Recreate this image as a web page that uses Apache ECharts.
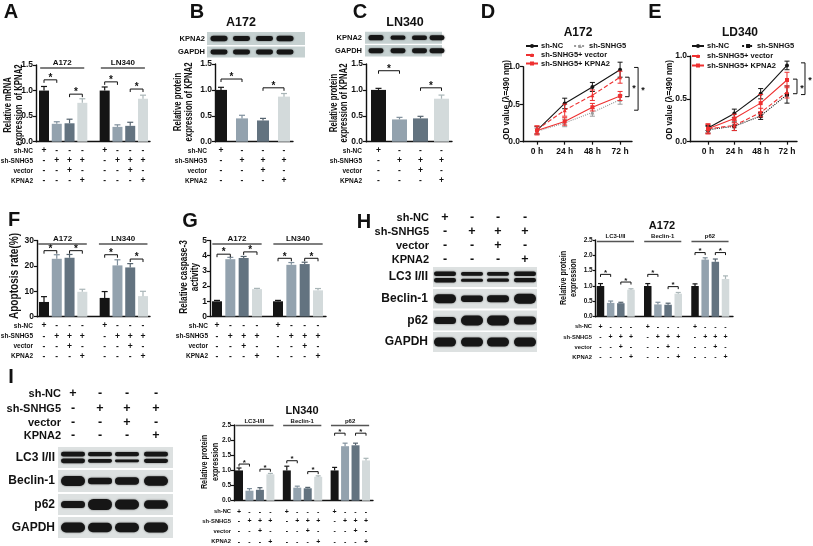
<!DOCTYPE html>
<html>
<head>
<meta charset="utf-8">
<script src="https://cdn.jsdelivr.net/npm/echarts@6/dist/echarts.min.js"></script>
<style>
html,body{margin:0;padding:0;background:#ffffff;}
#chart{width:813px;height:546px;}
</style>
</head>
<body>
<div id="chart"></div>
<script>
const FONT = '"Liberation Sans", Arial, Helvetica, sans-serif';

// ================= DATA =================
const rowNames = ['sh-NC', 'sh-SNHG5', 'vector', 'KPNA2'];
const rowSigns = [
  ['+', '-', '-', '-'],
  ['-', '+', '+', '+'],
  ['-', '-', '+', '-'],
  ['-', '-', '-', '+']
];
const cellLineGroups = ['A172', 'LN340'];
const proteinGroups = ['LC3-I/II', 'Beclin-1', 'p62'];

// A: relative mRNA expression of KPNA2
const mrnaValues = [1.00, 0.35, 0.36, 0.76, 1.00, 0.29, 0.31, 0.84];
const mrnaErrors = [0.08, 0.04, 0.08, 0.08, 0.07, 0.04, 0.07, 0.07];
const mrnaBrackets = [[0, 1, 1.21], [2, 3, 0.93], [4, 5, 1.17], [6, 7, 1.03]];

// B: A172 protein
const kpnaA172Values = [1.00, 0.45, 0.41, 0.87];
const kpnaA172Errors = [0.05, 0.06, 0.04, 0.06];
const kpnaA172Brackets = [[0, 1, 1.21], [2, 3, 1.04]];

// C: LN340 protein
const kpnaLN340Values = [1.00, 0.43, 0.45, 0.83];
const kpnaLN340Errors = [0.03, 0.04, 0.04, 0.07];
const kpnaLN340Brackets = [[0, 1, 1.37], [2, 3, 1.04]];

// D / E: OD value time courses
const timeLabels = ['0 h', '24 h', '48 h', '72 h'];
const odSeriesNames = ['sh-NC', 'sh-SNHG5', 'sh-SNHG5+ vector', 'sh-SNHG5+ KPNA2'];
const odA172Values = [
  [0.15, 0.51, 0.73, 0.96],
  [0.14, 0.25, 0.39, 0.56],
  [0.16, 0.42, 0.62, 0.86],
  [0.15, 0.27, 0.46, 0.61]
];
const odA172Errors = [
  [0.05, 0.07, 0.06, 0.10],
  [0.04, 0.05, 0.05, 0.06],
  [0.05, 0.08, 0.07, 0.08],
  [0.06, 0.05, 0.05, 0.06]
];
const odA172Brackets = [[0.86, 0.60], [0.99, 0.42]];
const odLD340Values = [
  [0.16, 0.33, 0.56, 0.89],
  [0.14, 0.18, 0.30, 0.55],
  [0.15, 0.19, 0.34, 0.58],
  [0.15, 0.27, 0.45, 0.72]
];
const odLD340Errors = [
  [0.03, 0.05, 0.06, 0.05],
  [0.04, 0.05, 0.04, 0.10],
  [0.06, 0.06, 0.05, 0.07],
  [0.05, 0.05, 0.10, 0.09]
];
const odLD340Brackets = [[0.73, 0.56], [0.92, 0.55]];

// F: apoptosis rate (%)
const apoValues = [5.8, 22.8, 23.2, 9.8, 7.4, 20.2, 19.4, 8.1];
const apoErrors = [2.1, 1.6, 1.3, 1.0, 2.5, 2.2, 1.5, 1.9];
const apoBrackets = [[0, 1, 26.0], [2, 3, 26.0], [4, 5, 24.4], [6, 7, 22.7]];

// G: relative caspase-3 activity
const caspValues = [1.00, 3.77, 3.85, 1.80, 1.00, 3.40, 3.45, 1.72];
const caspErrors = [0.06, 0.12, 0.10, 0.05, 0.06, 0.15, 0.12, 0.12];
const caspBrackets = [[0, 1, 4.1], [2, 3, 4.25], [4, 5, 3.83], [6, 7, 3.83]];

// H: A172 autophagy proteins
const autoA172Values = [1.00, 0.45, 0.44, 0.88, 1.00, 0.40, 0.39, 0.75, 1.00, 1.86, 1.79, 1.23];
const autoA172Errors = [0.08, 0.06, 0.03, 0.03, 0.08, 0.07, 0.05, 0.04, 0.07, 0.06, 0.09, 0.10];
const autoA172Brackets = [[0, 1, 1.38], [2, 3, 1.13], [4, 5, 1.38], [6, 7, 0.98], [8, 9, 2.09], [10, 11, 2.09]];

// I: LN340 autophagy proteins
const autoLN340Values = [1.00, 0.33, 0.36, 0.87, 1.00, 0.43, 0.41, 0.79, 1.00, 1.80, 1.83, 1.33];
const autoLN340Errors = [0.08, 0.07, 0.07, 0.03, 0.14, 0.05, 0.03, 0.03, 0.10, 0.10, 0.07, 0.07];
const autoLN340Brackets = [[0, 1, 1.21], [2, 3, 1.04], [4, 5, 1.32], [6, 7, 0.96], [8, 9, 2.23], [10, 11, 2.23]];

// Western blot band strengths (relative band thickness per lane)
const blotBKPNA2 = [1.0, 0.85, 0.85, 0.95];
const blotBGAPDH = [1.0, 1.0, 1.0, 1.0];
const blotCKPNA2 = [1.0, 0.8, 0.85, 0.95];
const blotCGAPDH = [1.0, 1.0, 1.0, 1.0];
const blotHLC3 = [[1.0, 0.85, 0.85, 1.0], [1.0, 0.7, 0.75, 0.95]];
const blotHBeclin = [1.0, 0.7, 0.8, 1.1];
const blotHp62 = [0.8, 1.1, 1.1, 0.9];
const blotHGAPDH = [1.0, 1.0, 1.0, 1.0];
const blotILC3 = [[1.0, 0.9, 0.9, 1.0], [1.0, 0.75, 0.6, 0.9]];
const blotIBeclin = [1.0, 0.65, 0.75, 0.95];
const blotIp62 = [0.7, 1.1, 1.0, 0.85];
const blotIGAPDH = [1.0, 0.95, 0.95, 1.0];

// ================= STYLE =================
const barColors = ['#151515', '#93a2ae', '#637380', '#d3dadb'];
const errColors = ['#151515', '#7f8f9c', '#55636e', '#a9b5b7'];

const option = {animation: false, backgroundColor: '#ffffff', grid: [], xAxis: [], yAxis: [], series: [], legend: [], graphic: {elements: []}};
const GE = option.graphic.elements;

function font(sz) { return 'bold ' + sz + 'px ' + FONT; }
function addText(text, x, y, sz, align, extra) {
  const a = align || 'center';
  GE.push(Object.assign({type: 'text', x: x, y: y, silent: true, z: 10,
    style: {text: text, font: font(sz), fill: '#111', align: a, verticalAlign: 'middle', textAlign: a, textVerticalAlign: 'middle'}}, extra || {}));
}
function addVText(text, x, y, sz, sx) { addText(text, x, y, sz, 'center', {rotation: Math.PI / 2, scaleX: sx || 1}); }

function addBarPanel(L, values, errors, brackets, groups) {
  const gi = option.grid.length;
  const n = values.length;
  const pos = values.map((_, k) => Math.floor(k / 4) * (4 + L.gap) + (k % 4));
  const s = (L.lastPx - L.firstPx) / pos[n - 1];
  const xmin = -(L.firstPx - L.left) / s;
  const xmax = xmin + (L.right - L.left) / s;
  option.grid.push({left: L.left, top: L.top, width: L.right - L.left, height: L.bottom - L.top});
  option.xAxis.push({type: 'value', gridIndex: gi, min: xmin, max: xmax,
    axisLine: {show: true, onZero: false, lineStyle: {color: '#111', width: 1.4}},
    axisTick: {show: false}, axisLabel: {show: false}, splitLine: {show: false}});
  option.yAxis.push({type: 'value', gridIndex: gi, min: 0, max: L.yMax, interval: L.yInt,
    axisLine: {show: true, onZero: false, lineStyle: {color: '#111', width: 1.4}},
    axisTick: {show: true, length: 3, lineStyle: {color: '#111', width: 1.2}},
    axisLabel: {color: '#111', fontFamily: FONT, fontWeight: 'bold', fontSize: L.tickFont, margin: 3,
      formatter: v => v.toFixed(L.dec)},
    splitLine: {show: false}});
  const base = {xAxisIndex: gi, yAxisIndex: gi, silent: true};
  option.series.push(Object.assign({type: 'bar', barWidth: L.barWidth,
    data: values.map((v, k) => ({value: [pos[k], v], itemStyle: {color: barColors[k % 4]}}))}, base));
  // error bars (upper)
  option.series.push(Object.assign({type: 'custom', clip: false, z: 3,
    data: values.map((v, k) => [pos[k], v, errors[k], k % 4]),
    renderItem: (p, api) => {
      const a = api.coord([api.value(0), api.value(1)]);
      const b = api.coord([api.value(0), api.value(1) + api.value(2)]);
      const c = errColors[api.value(3)];
      return {type: 'group', children: [
        {type: 'line', shape: {x1: a[0], y1: a[1], x2: b[0], y2: b[1]}, style: {stroke: c, lineWidth: 1.2}},
        {type: 'line', shape: {x1: b[0] - L.cap, y1: b[1], x2: b[0] + L.cap, y2: b[1]}, style: {stroke: c, lineWidth: 1.2}}
      ]};
    }}, base));
  // significance brackets
  option.series.push(Object.assign({type: 'custom', clip: false, z: 4,
    data: brackets.map(b => [pos[b[0]], pos[b[1]], b[2]]),
    renderItem: (p, api) => {
      const a = api.coord([api.value(0), api.value(2)]);
      const b = api.coord([api.value(1), api.value(2)]);
      const t = L.tick;
      return {type: 'group', children: [
        {type: 'polyline', shape: {points: [[a[0], a[1] + t], [a[0], a[1]], [b[0], b[1]], [b[0], b[1] + t]]}, style: {stroke: '#111', lineWidth: 1, fill: null}},
        {type: 'text', x: (a[0] + b[0]) / 2, y: a[1] - 1.5, style: {text: '*', font: font(L.starFont), fill: '#111', align: 'center', verticalAlign: 'middle'}}
      ]};
    }}, base));
  // condition table signs
  option.series.push(Object.assign({type: 'custom', clip: false, z: 4,
    data: values.map((v, k) => [pos[k], k % 4]),
    renderItem: (p, api) => {
      const x = api.coord([api.value(0), 0])[0];
      const c = api.value(1);
      return {type: 'group', children: L.rowY.map((y, r) => ({type: 'text', x: x, y: y,
        style: {text: rowSigns[r][c], font: font(L.signFont), fill: '#111', align: 'center', verticalAlign: 'middle'}}))};
    }}, base));
  rowNames.forEach((nm, r) => addText(nm, L.rowLabelX, L.rowY[r], L.labelFont, 'right'));
  // group headers
  if (groups) {
    option.series.push(Object.assign({type: 'custom', clip: false, z: 4,
      data: groups.map((g, gg) => [pos[gg * 4] + L.hdrExt[0], pos[gg * 4 + 3] + L.hdrExt[1], gg]),
      renderItem: (p, api) => {
        const x1 = api.coord([api.value(0), 0])[0];
        const x2 = api.coord([api.value(1), 0])[0];
        return {type: 'group', children: [
          {type: 'line', shape: {x1: x1, y1: L.hdrLineY, x2: x2, y2: L.hdrLineY}, style: {stroke: '#555', lineWidth: 1.4}},
          {type: 'text', x: (x1 + x2) / 2, y: L.hdrTextY, style: {text: groups[api.value(2)], font: font(L.hdrFont), fill: '#111', align: 'center', verticalAlign: 'middle'}}
        ]};
      }}, base));
  }
}

function addLinePanel(L, key, values, errors, styles, brackets) {
  const gi = option.grid.length;
  option.grid.push({left: L.left, top: L.top, width: L.right - L.left, height: L.bottom - L.top});
  option.xAxis.push({type: 'value', gridIndex: gi, min: L.xmin, max: L.xmax,
    axisLine: {show: true, onZero: false, lineStyle: {color: '#111', width: 1.4}},
    axisTick: {show: true, customValues: [0, 1, 2, 3], length: 3, lineStyle: {color: '#111', width: 1.2}},
    axisLabel: {show: true, customValues: [0, 1, 2, 3], formatter: v => timeLabels[Math.round(v)] || '',
      color: '#111', fontFamily: FONT, fontWeight: 'bold', fontSize: 8.5, margin: 5},
    splitLine: {show: false}});
  option.yAxis.push({type: 'value', gridIndex: gi, min: 0, max: 1, interval: 0.5,
    axisLine: {show: true, onZero: false, lineStyle: {color: '#111', width: 1.4}},
    axisTick: {show: true, length: 3, lineStyle: {color: '#111', width: 1.2}},
    axisLabel: {color: '#111', fontFamily: FONT, fontWeight: 'bold', fontSize: 8.5, margin: 3, formatter: v => v.toFixed(1)},
    splitLine: {show: false}});
  const base = {xAxisIndex: gi, yAxisIndex: gi, silent: true};
  odSeriesNames.forEach((nm, k) => {
    const st = styles[k];
    option.series.push(Object.assign({type: 'line', name: key + '|' + nm, z: 3 + k,
      data: values[k].map((v, i) => [i, v]), symbol: st.symbol, symbolSize: st.size,
      lineStyle: {color: st.color, width: 1.1, type: st.type}, itemStyle: {color: st.color}}, base));
    option.series.push(Object.assign({type: 'custom', clip: false, z: 3 + k,
      data: values[k].map((v, i) => [i, v, errors[k][i]]),
      renderItem: (p, api) => {
        const x = api.value(0), v = api.value(1), e = api.value(2);
        const a = api.coord([x, v + e]), b = api.coord([x, v - e]);
        return {type: 'group', children: [
          {type: 'line', shape: {x1: a[0], y1: a[1], x2: b[0], y2: b[1]}, style: {stroke: st.color, lineWidth: 1}},
          {type: 'line', shape: {x1: a[0] - 2.5, y1: a[1], x2: a[0] + 2.5, y2: a[1]}, style: {stroke: st.color, lineWidth: 1}},
          {type: 'line', shape: {x1: b[0] - 2.5, y1: b[1], x2: b[0] + 2.5, y2: b[1]}, style: {stroke: st.color, lineWidth: 1}}
        ]};
      }}, base));
  });
  option.series.push(Object.assign({type: 'custom', clip: false, z: 8,
    data: brackets.map((b, bi) => [3, b[0], b[1], bi]),
    renderItem: (p, api) => {
      const off = L.brOff[api.value(3)];
      const a = api.coord([api.value(0), api.value(1)]);
      const b = api.coord([api.value(0), api.value(2)]);
      const x = a[0] + off;
      return {type: 'group', children: [
        {type: 'polyline', shape: {points: [[x - 4, a[1]], [x, a[1]], [x, b[1]], [x - 4, b[1]]]}, style: {stroke: '#111', lineWidth: 1, fill: null}},
        {type: 'text', x: x + 5, y: (a[1] + b[1]) / 2 + 2, style: {text: '*', font: font(9), fill: '#111', align: 'center', verticalAlign: 'middle'}}
      ]};
    }}, base));
  // legends
  L.legendRows.forEach(row => {
    option.legend.push({show: true, data: row.items.map(i => key + '|' + odSeriesNames[i]), left: row.left, top: row.top,
      orient: 'horizontal', itemWidth: 12, itemHeight: 5, itemGap: row.gap || 10, padding: 0, selectedMode: false,
      formatter: nm => nm.split('|')[1],
      textStyle: {fontFamily: FONT, fontWeight: 'bold', fontSize: 7.5, color: '#111', padding: [0, 0, 0, -2]}});
  });
}

function addBlotRow(x0, y0, w, h, lanes, strengths, opt) {
  GE.push({type: 'rect', silent: true, z: 1, shape: {x: x0, y: y0, width: w, height: h}, style: {fill: opt.bg}});
  lanes.forEach((cx, i) => {
    const draw = (cy, hh) => GE.push({type: 'rect', silent: true, z: 2,
      shape: {x: cx - opt.halfW, y: cy - hh, width: opt.halfW * 2, height: hh * 2, r: hh},
      style: {fill: '#161616', shadowBlur: 2, shadowColor: 'rgba(0,0,0,0.55)'}});
    if (opt.double) {
      draw(y0 + h * 0.34, opt.halfH * strengths[0][i]);
      draw(y0 + h * 0.66, opt.halfH * strengths[1][i]);
    } else {
      draw(y0 + h * 0.5, opt.halfH * strengths[i]);
    }
  });
}

// ================= LAYOUT =================
const smallTable = {rowY: [151, 161, 171, 181], signFont: 8.5, labelFont: 6.5};
const LA = Object.assign({left: 36, right: 150, top: 65, bottom: 141.7, yMax: 1.5, yInt: 0.5, dec: 1, tickFont: 8.5,
  firstPx: 44, lastPx: 143, gap: 0.75, barWidth: 10, cap: 3, tick: 3, starFont: 10, rowLabelX: 33,
  hdrTextY: 62.5, hdrLineY: 68, hdrExt: [-0.3, 0.15], hdrFont: 8}, smallTable);
const LB = Object.assign({left: 215, right: 293, top: 64, bottom: 141.7, yMax: 1.5, yInt: 0.5, dec: 1, tickFont: 8.5,
  firstPx: 221, lastPx: 284, gap: 0, barWidth: 12, cap: 3, tick: 3, starFont: 10, rowLabelX: 207}, smallTable);
const LC = Object.assign({left: 366, right: 452, top: 64, bottom: 141.7, yMax: 1.5, yInt: 0.5, dec: 1, tickFont: 8.5,
  firstPx: 378.5, lastPx: 441.5, gap: 0, barWidth: 15, cap: 3, tick: 3, starFont: 10, rowLabelX: 362}, smallTable);
const fgTable = {rowY: [326, 336.3, 346.5, 356.7], signFont: 8.5, labelFont: 6.5};
const LF = Object.assign({left: 37, right: 150, top: 240.5, bottom: 316.7, yMax: 30, yInt: 10, dec: 0, tickFont: 8.5,
  firstPx: 44, lastPx: 143, gap: 0.75, barWidth: 10, cap: 3, tick: 3, starFont: 10, rowLabelX: 33,
  hdrTextY: 238.5, hdrLineY: 244, hdrExt: [-0.45, 0.35], hdrFont: 8}, fgTable);
const LG = Object.assign({left: 210, right: 326, top: 240.5, bottom: 316.5, yMax: 5, yInt: 1, dec: 0, tickFont: 8.5,
  firstPx: 217, lastPx: 318, gap: 0.58, barWidth: 10, cap: 3, tick: 3, starFont: 10, rowLabelX: 208,
  hdrTextY: 238.5, hdrLineY: 244, hdrExt: [-0.35, 0.35], hdrFont: 8}, fgTable);
const LH = {left: 595.7, right: 733, top: 240, bottom: 316.7, yMax: 2.5, yInt: 0.5, dec: 1, tickFont: 6.5,
  firstPx: 600.5, lastPx: 725.5, gap: 0.65, barWidth: 7.5, cap: 2.5, tick: 2.5, starFont: 8, rowLabelX: 592,
  rowY: [326.7, 337.3, 347.3, 357.3], signFont: 7, labelFont: 5.8,
  hdrTextY: 236.5, hdrLineY: 241.5, hdrExt: [-0.35, 0.3], hdrFont: 6};
const LI = {left: 234, right: 373, top: 425, bottom: 500.7, yMax: 2.5, yInt: 0.5, dec: 1, tickFont: 6.5,
  firstPx: 239, lastPx: 366, gap: 0.57, barWidth: 8, cap: 2.5, tick: 2.5, starFont: 8, rowLabelX: 231,
  rowY: [511.7, 521.3, 531.3, 541.7], signFont: 7, labelFont: 5.8,
  hdrTextY: 421, hdrLineY: 425.5, hdrExt: [-0.35, 0.3], hdrFont: 6};

const LD = {left: 523, right: 632, top: 66.7, bottom: 141.7, xmin: -0.505, xmax: 3.43, brOff: [9, 18],
  legendRows: [{items: [0, 1], left: 525, top: 42, gap: 10}, {items: [2], left: 525, top: 51}, {items: [3], left: 525, top: 59.5}]};
const LE = {left: 690, right: 797, top: 56, bottom: 141.7, xmin: -0.684, xmax: 3.38, brOff: [10, 18],
  legendRows: [{items: [0, 1], left: 691, top: 42, gap: 12}, {items: [2], left: 691, top: 52}, {items: [3], left: 691, top: 61.5}]};
const stylesD = [
  {color: '#151515', type: 'solid', symbol: 'circle', size: 4},
  {color: '#9a9a9a', type: 'dotted', symbol: 'triangle', size: 4},
  {color: '#ee3030', type: 'dashed', symbol: 'triangle', size: 4},
  {color: '#ee3030', type: 'solid', symbol: 'rect', size: 4}
];
const stylesE = [
  {color: '#151515', type: 'solid', symbol: 'circle', size: 4},
  {color: '#151515', type: 'dotted', symbol: 'rect', size: 4},
  {color: '#ee3030', type: 'dashed', symbol: 'triangle', size: 4},
  {color: '#ee3030', type: 'solid', symbol: 'rect', size: 4}
];

// ================= BUILD =================
addBarPanel(LA, mrnaValues, mrnaErrors, mrnaBrackets, cellLineGroups);
addBarPanel(LB, kpnaA172Values, kpnaA172Errors, kpnaA172Brackets, null);
addBarPanel(LC, kpnaLN340Values, kpnaLN340Errors, kpnaLN340Brackets, null);
addBarPanel(LF, apoValues, apoErrors, apoBrackets, cellLineGroups);
addBarPanel(LG, caspValues, caspErrors, caspBrackets, cellLineGroups);
addBarPanel(LH, autoA172Values, autoA172Errors, autoA172Brackets, proteinGroups);
addBarPanel(LI, autoLN340Values, autoLN340Errors, autoLN340Brackets, proteinGroups);
addLinePanel(LD, 'D', odA172Values, odA172Errors, stylesD, odA172Brackets);
addLinePanel(LE, 'E', odLD340Values, odLD340Errors, stylesE, odLD340Brackets);

// panel letters
[['A', 11, 12], ['B', 197, 12], ['C', 360, 12], ['D', 488, 12], ['E', 655, 12],
 ['F', 14, 220], ['G', 190, 221], ['H', 364, 222], ['I', 11, 377]].forEach(t => addText(t[0], t[1], t[2], 20));

// titles
addText('A172', 241, 22.5, 12.5);
addText('LN340', 405, 22.5, 12.5);
addText('A172', 578, 33, 12);
addText('LD340', 740, 33, 12);
addText('A172', 662, 226, 11);
addText('LN340', 302, 411, 11);

// y-axis names
addVText('Relative mRNA', 8, 105, 10.5, 0.74);
addVText('expression  of KPNA2', 19.5, 105, 10.5, 0.74);
addVText('Relative protein', 178.5, 102, 10.5, 0.74);
addVText('expression of KPNA2', 189, 102, 10.5, 0.74);
addVText('Relative protein', 334, 103, 10.5, 0.74);
addVText('expression of KPNA2', 344.5, 103, 10.5, 0.74);
addVText('OD value (\u03bb=490 nm)', 506, 100, 9.5, 0.85);
addVText('OD value (\u03bb=490 nm)', 669, 100, 9.5, 0.85);
addVText('Apoptosis rate(%)', 15, 276, 12, 0.84);
addVText('Relative caspase-3', 184.5, 277, 10, 0.82);
addVText('activity', 195.5, 277, 10, 0.82);
addVText('Relative protein', 563.5, 278, 8.5, 0.85);
addVText('expression', 574, 278, 8.5, 0.85);
addVText('Relative protein', 205, 462, 8.5, 0.85);
addVText('expression', 216, 462, 8.5, 0.85);

// blots B and C
const bgBC = '#c6d1d1';
addBlotRow(207, 32, 98, 13, [219, 241.5, 264.5, 285], blotBKPNA2, {bg: bgBC, halfW: 8.5, halfH: 2.8});
addBlotRow(207, 46.5, 98, 11, [219, 241.5, 264.5, 285], blotBGAPDH, {bg: bgBC, halfW: 8.5, halfH: 2.4});
addText('KPNA2', 205, 38.5, 7.5, 'right');
addText('GAPDH', 205, 52, 7.5, 'right');
addBlotRow(365, 31.7, 77, 12, [376, 398, 419.5, 437], blotCKPNA2, {bg: bgBC, halfW: 7.5, halfH: 2.6});
addBlotRow(365, 45, 77, 11.5, [376, 398, 419.5, 437], blotCGAPDH, {bg: bgBC, halfW: 7.5, halfH: 2.4});
addText('KPNA2', 362, 38, 7.5, 'right');
addText('GAPDH', 362, 51, 7.5, 'right');

// H: condition table + blots
const hCols = [445, 472, 498, 525];
const hRowY = [218, 232, 246, 260];
rowNames.forEach((nm, r) => {
  addText(nm, 429, hRowY[r], 11, 'right');
  hCols.forEach((x, c) => addText(rowSigns[r][c], x, hRowY[r], 12.5));
});
const bgHI = '#dde1e1';
addBlotRow(433, 267, 104, 20, hCols, blotHLC3, {bg: bgHI, halfW: 11, halfH: 2.2, double: true});
addBlotRow(433, 289, 104, 19.5, hCols, blotHBeclin, {bg: bgHI, halfW: 11, halfH: 4.5});
addBlotRow(433, 310.5, 104, 20, hCols, blotHp62, {bg: bgHI, halfW: 11, halfH: 4.5});
addBlotRow(433, 332, 104, 20, hCols, blotHGAPDH, {bg: bgHI, halfW: 11, halfH: 4.5});
addText('LC3 I/II', 428, 277, 12, 'right');
addText('Beclin-1', 428, 299, 12, 'right');
addText('p62', 428, 320.5, 12, 'right');
addText('GAPDH', 428, 342, 12, 'right');

// I: condition table + blots
const iCols = [73, 100, 127, 156];
const iRowY = [394, 408.5, 423, 436];
rowNames.forEach((nm, r) => {
  addText(nm, 61, iRowY[r], 11, 'right');
  iCols.forEach((x, c) => addText(rowSigns[r][c], x, iRowY[r], 12.5));
});
addBlotRow(58, 447, 115, 21, iCols, blotILC3, {bg: bgHI, halfW: 12, halfH: 2.4, double: true});
addBlotRow(58, 470, 115, 22, iCols, blotIBeclin, {bg: bgHI, halfW: 12, halfH: 5});
addBlotRow(58, 494, 115, 21, iCols, blotIp62, {bg: bgHI, halfW: 12, halfH: 5});
addBlotRow(58, 517, 115, 21, iCols, blotIGAPDH, {bg: bgHI, halfW: 12, halfH: 5});
addText('LC3 I/II', 55, 457.5, 12, 'right');
addText('Beclin-1', 55, 481, 12, 'right');
addText('p62', 55, 504.5, 12, 'right');
addText('GAPDH', 55, 527.5, 12, 'right');

const chart = echarts.init(document.getElementById('chart'), null, {renderer: 'canvas', width: 813, height: 546});
chart.setOption(option);
</script>
</body>
</html>
